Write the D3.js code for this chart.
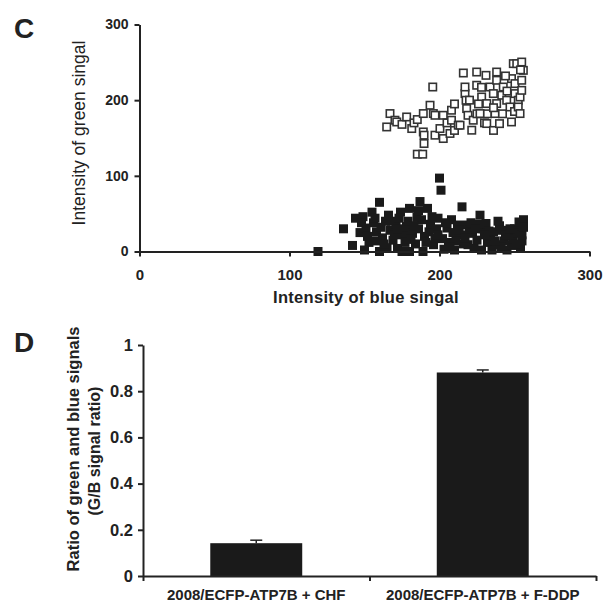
<!DOCTYPE html>
<html>
<head>
<meta charset="utf-8">
<script src="https://cdn.jsdelivr.net/npm/d3@7"></script>
<style>
  body { margin: 0; background: #fff; }
  text { font-family: "Liberation Sans", Arial, sans-serif; fill: #222; }
  .axis path, .axis line { stroke: #222; stroke-width: 2; }
</style>
</head>
<body>
<div id="chart"></div>
<script>
// panel C data (blue intensity, green intensity)
var openPts = [
  [164.8,164.6],[167,182.3],[170.3,173.5],[171.5,171.2],[175,168],[178.1,177.8],[181.5,162.5],[183,170],
  [185.2,174.4],[185.2,128.6],[188.8,128.6],[189.2,182.3],[189.2,158],[189.7,153.7],[189.7,142.7],
  [193.7,193.3],[195.5,217.4],[195.9,182.3],[197,180],[197,153.7],[200.3,162.5],[202.5,149.3],[202.5,180],
  [205,170],[207,156],[208,186.7],[208,173.5],[210,160],[212.5,166.9],[213.7,166.9],[215.9,235.9],
  [217,208.7],[217,217.4],[217.7,199.9],[218.1,188.9],[219,180],[221.5,160.3],[222.5,173.5],[224.8,237.2],
  [224.8,219.7],[225,182],[227,182.3],[228.1,204.2],[228,217],[230,170],[231,232.8],[231.5,195.5],
  [231.5,169.1],[232,182],[233.7,217.4],[235.9,208.7],[236,160],[237,182.3],[238.1,237.2],[238.1,226.3],
  [238.1,195.5],[240,169],[241.5,206.5],[242,182],[242.5,217.4],[244.8,199.9],[245,212],[247,191],
  [248,171.2],[248,228.5],[249.2,248.3],[250.3,208.7],[250.3,221.9],[250,185],[251.5,248.3],[252.5,199.9],
  [252.5,191],[253.7,182.3],[253.7,204.2],[254.8,226.3],[254.8,213],[254.8,250.4],[255.9,239.4],
  [254,240],[244,232],[236,190],[226,195],[220,200],[210,195]
];
var filledPts = [
  [119,0],[136,30],[142,8],[144,44],[147,25],[149,46],[151,31],[153,12],[155,52],[156,38],[158,26],
  [160,0],[160,65],[162,18],[164,40],[166,48],[167,28],[169,15],[171,36],[172,4],[174,52],[175,0],
  [176,22],[178,33],[180,0],[180,57],[182,24],[184,10],[185,45],[187,66],[188,42],[189,0],[190,20],
  [192,57],[193,26],[194,36],[196,9],[198,30],[199,44],[200,97],[201,81],[202,17],[203,3],[205,31],
  [206,12],[208,42],[209,25],[210,2],[212,35],[214,22],[215,59],[216,10],[218,35],[219,9],[220,28],
  [222,24],[223,4],[225,15],[227,48],[228,2],[229,30],[231,37],[232,12],[234,20],[235,2],[236,26],
  [238,9],[240,34],[242,28],[243,14],[245,2],[246,20],[248,8],[249,17],[250,30],[252,24],[253,39],
  [254,4],[255,14],[256,42],[150,2],[165,5],[186,30],[197,18],[211,14],[226,36],[241,6],[233,27],
  [148,38],[152,20],[157,44],[161,32],[163,10],[168,40],[170,22],[173,44],[177,12],[179,40],[181,16],
  [183,34],[186,54],[191,12],[195,46],[199,22],[204,38],[207,6],[213,28],[217,18],[221,38],[224,30],
  [230,22],[237,14],[239,40],[244,22],[247,30],[251,10],[255,22],[256,32],[158,14],[172,30]
];
var xTicksC = [0, 100, 200, 300];
var yTicksC = [0, 100, 200, 300];

// panel D data
var categories = ["2008/ECFP-ATP7B + CHF", "2008/ECFP-ATP7B + F-DDP"];
var ratios = [0.142, 0.881];
var errors = [0.013, 0.011];
var yTicksD = [0, 0.2, 0.4, 0.6, 0.8, 1];

var width = 604, height = 607;
var svg = d3.select("#chart").append("svg")
    .attr("width", width)
    .attr("height", height);

// ---------- panel C ----------
var xC = d3.scaleLinear().domain([0, 300]).range([139.5, 589.5]);
var yC = d3.scaleLinear().domain([0, 300]).range([251.5, 24.5]);

var sq = 9;

svg.append("g")
    .selectAll("rect")
    .data(filledPts)
    .enter().append("rect")
      .attr("x", function(d) { return xC(d[0]) - sq / 2; })
      .attr("y", function(d) { return yC(d[1]) - sq / 2; })
      .attr("width", sq)
      .attr("height", sq)
      .attr("fill", "#1a1a1a");

svg.append("g")
    .selectAll("rect")
    .data(openPts)
    .enter().append("rect")
      .attr("x", function(d) { return xC(d[0]) - sq / 2 + 0.8; })
      .attr("y", function(d) { return yC(d[1]) - sq / 2 + 0.8; })
      .attr("width", sq - 1.6)
      .attr("height", sq - 1.6)
      .attr("fill", "#fff")
      .attr("stroke", "#333")
      .attr("stroke-width", 1.6);

svg.append("g")
    .attr("class", "axis")
    .attr("transform", "translate(0," + yC(0) + ")")
    .call(d3.axisBottom(xC).tickValues(xTicksC).tickSize(5).tickSizeOuter(0).tickPadding(13).tickFormat(d3.format("d")))
    .call(function(g) { g.selectAll("text").attr("font-size", 15).attr("font-weight", "bold").attr("fill", "#222"); });

svg.append("g")
    .attr("class", "axis")
    .attr("transform", "translate(" + xC(0) + ",0)")
    .call(d3.axisLeft(yC).tickValues(yTicksC).tickSize(5).tickSizeOuter(0).tickPadding(6).tickFormat(d3.format("d")))
    .call(function(g) { g.selectAll("text").attr("font-size", 14).attr("font-weight", "bold").attr("fill", "#222"); });

svg.append("text")
    .attr("x", 366)
    .attr("y", 303)
    .attr("text-anchor", "middle")
    .attr("font-size", 16.5)
    .attr("font-weight", "bold")
    .attr("letter-spacing", 0.3)
    .text("Intensity of blue singal");

svg.append("text")
    .attr("transform", "translate(85,133) rotate(-90)")
    .attr("text-anchor", "middle")
    .attr("font-size", 17.5)
    .text("Intensity of green singal");

svg.append("text")
    .attr("x", 14)
    .attr("y", 38)
    .attr("font-size", 28)
    .attr("font-weight", "bold")
    .text("C");

// ---------- panel D ----------
var xD = d3.scaleBand().domain(categories).range([143, 596])
    .paddingInner(0.594).paddingOuter(0.297);
var yD = d3.scaleLinear().domain([0, 1]).range([576, 345]);

svg.append("g")
    .selectAll("rect")
    .data(ratios)
    .enter().append("rect")
      .attr("x", function(d, i) { return xD(categories[i]); })
      .attr("y", function(d) { return yD(d); })
      .attr("width", xD.bandwidth())
      .attr("height", function(d) { return yD(0) - yD(d); })
      .attr("fill", "#1a1a1a");

var errG = svg.append("g").attr("stroke", "#222").attr("stroke-width", 1.5);
ratios.forEach(function(v, i) {
  var cx = xD(categories[i]) + xD.bandwidth() / 2;
  errG.append("line")
      .attr("x1", cx).attr("x2", cx)
      .attr("y1", yD(v)).attr("y2", yD(v + errors[i]));
  errG.append("line")
      .attr("x1", cx - 6).attr("x2", cx + 6)
      .attr("y1", yD(v + errors[i])).attr("y2", yD(v + errors[i]));
});

// category boundaries on the x axis
var xEdge = d3.scaleLinear().domain([0, categories.length]).range(xD.range());
svg.append("g")
    .attr("class", "axis")
    .attr("transform", "translate(0," + yD(0) + ")")
    .call(d3.axisBottom(xEdge).tickValues(d3.range(categories.length + 1)).tickSize(5).tickSizeOuter(0).tickFormat(""));

svg.append("g")
    .selectAll("text.cat")
    .data(categories)
    .enter().append("text")
      .attr("class", "cat")
      .attr("x", function(d) { return xD(d) + xD.bandwidth() / 2; })
      .attr("y", 600)
      .attr("text-anchor", "middle")
      .attr("font-size", 15)
      .attr("font-weight", "bold")
      .text(function(d) { return d; });

svg.append("g")
    .attr("class", "axis")
    .attr("transform", "translate(" + xD.range()[0] + ",0)")
    .call(d3.axisLeft(yD).tickValues(yTicksD).tickSize(5).tickSizeOuter(0).tickPadding(5).tickFormat(function(d) { return String(d); }))
    .call(function(g) { g.selectAll("text").attr("font-size", 16.5).attr("font-weight", "bold").attr("fill", "#222"); });

svg.append("text")
    .attr("transform", "translate(79,449) rotate(-90)")
    .attr("text-anchor", "middle")
    .attr("font-size", 16.5)
    .attr("font-weight", "bold")
    .text("Ratio of green and blue signals");

svg.append("text")
    .attr("transform", "translate(100,451) rotate(-90)")
    .attr("text-anchor", "middle")
    .attr("font-size", 16)
    .attr("font-weight", "bold")
    .text("(G/B signal ratio)");

svg.append("text")
    .attr("x", 14)
    .attr("y", 352)
    .attr("font-size", 28)
    .attr("font-weight", "bold")
    .text("D");
</script>
</body>
</html>
